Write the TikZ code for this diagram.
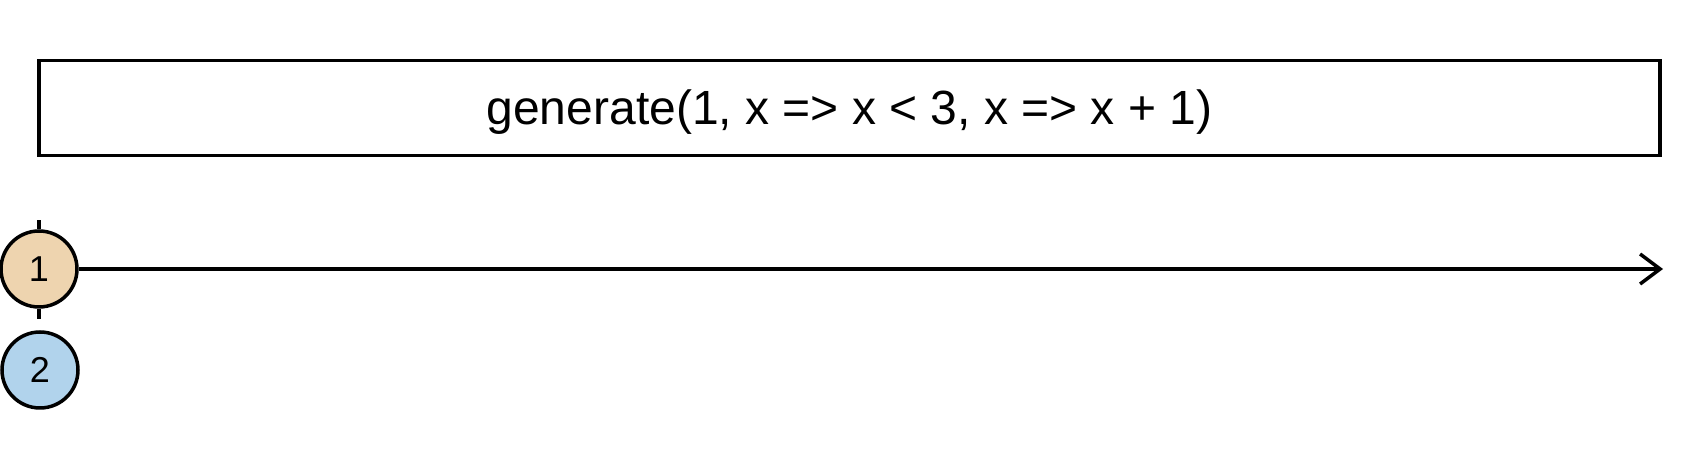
\documentclass[tikz,border=0pt]{standalone}
\usepackage{fontspec}
\setmainfont{Liberation Sans}
\usetikzlibrary{arrows.meta,positioning}
\definecolor{marbleorange}{HTML}{EED4AF}
\definecolor{marbleblue}{HTML}{B1D3EC}
\tikzset{
every picture/.style={line cap=butt,line join=miter},
op box/.style={
  draw=black,
  line width=3.5pt,
  minimum width=1621pt,
  minimum height=95pt,
  inner sep=0pt,
  font=\fontsize{48}{52}\selectfont
},
marble/.style={
  circle,
  draw=black,
  line width=3.5pt,
  minimum size=76pt,
  inner sep=0pt,
  font=\fontsize{36}{40}\selectfont
},
time line/.style={
  draw=black,
  line width=3.5pt,
  -{Straight Barb[length=20pt,width=30pt,line width=3.5pt]}
},
tick line/.style={draw=black, line width=3.5pt}
}
\begin{document}
\begin{tikzpicture}[x=1pt,y=1pt]
\fill[white] (0,0) rectangle (1700,460);
\useasboundingbox (0,0) rectangle (1700,460);
\node[op box] (op) at (849.5,352) {\raisebox{-4pt}[\height][\depth]{generate(1, x => x < 3, x => x + 1)}};
\node[marble,fill=marbleorange] (m1) at (39,191) {1};
\node[marble,fill=marbleblue] (m2) at (40,90) {2};
\coordinate (end) at (1663,191);
\coordinate (tickup) at (39,240);
\coordinate (tickdown) at (39,141);
\draw[tick line] (m1.north) -- (tickup);
\draw[tick line] (m1.south) -- (tickdown);
\draw[time line] (m1.east) -- (end);
\end{tikzpicture}
\end{document}
